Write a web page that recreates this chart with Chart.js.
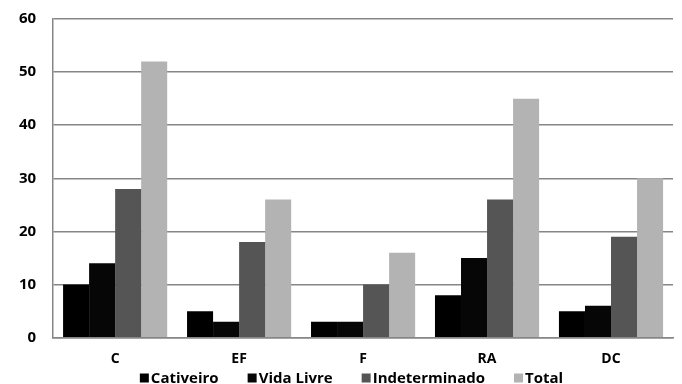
<!DOCTYPE html>
<html>
<head>
<meta charset="utf-8">
<script src="https://cdn.jsdelivr.net/npm/chart.js@4.4.1/dist/chart.umd.min.js"></script>
<style>
  html, body { margin: 0; padding: 0; background: #ffffff; }
  #wrap { width: 682px; height: 384px; position: relative; }
</style>
</head>
<body>
<div id="wrap"><canvas id="c" width="682" height="384"></canvas></div>
<script>
const categories = ['C', 'EF', 'F', 'RA', 'DC'];
const cativeiro = [10, 5, 3, 8, 5];
const vidaLivre = [14, 3, 3, 15, 6];
const indeterminado = [28, 18, 10, 26, 19];
const total = [52, 26, 16, 45, 30];
const yTicks = [0, 10, 20, 30, 40, 50, 60];

const FONT = "'Open Sans', 'DejaVu Sans', sans-serif";

function series(label, data, color) {
  return {
    label: label,
    data: data,
    backgroundColor: color,
    borderWidth: 0,
    categoryPercentage: 0.84,
    barPercentage: 1.0
  };
}

// Compact legend row under the axis: small square, tight label, wide gap between items.
const compactLegend = {
  id: 'compactLegend',
  afterDraw(chart) {
    const ctx = chart.ctx;
    const box = 9, textGap = 2, itemGap = 29;
    const centerX = 351.5, centerY = 378;
    ctx.save();
    ctx.font = "bold 15px " + FONT;
    ctx.textBaseline = 'middle';
    ctx.textAlign = 'left';
    const items = chart.data.datasets.map(ds => ({
      label: ds.label,
      color: ds.backgroundColor,
      w: box + textGap + ctx.measureText(ds.label).width
    }));
    const totalW = items.reduce((s, it) => s + it.w, 0) + itemGap * (items.length - 1);
    let x = centerX - totalW / 2;
    items.forEach(it => {
      ctx.fillStyle = it.color;
      ctx.fillRect(x, centerY - box / 2, box, box);
      ctx.fillStyle = '#000000';
      ctx.fillText(it.label, x + box + textGap, centerY + 0.5);
      x += it.w + itemGap;
    });
    ctx.restore();
  }
};

new Chart(document.getElementById('c'), {
  type: 'bar',
  data: {
    labels: categories,
    datasets: [
      series('Cativeiro', cativeiro, '#000000'),
      series('Vida Livre', vidaLivre, '#060606'),
      series('Indeterminado', indeterminado, '#555555'),
      series('Total', total, '#b3b3b3')
    ]
  },
  plugins: [compactLegend],
  options: {
    responsive: false,
    animation: false,
    devicePixelRatio: 1,
    layout: { padding: { left: 2, right: 9, top: 19, bottom: 4.5 } },
    plugins: {
      tooltip: { enabled: false },
      legend: { display: false }
    },
    scales: {
      x: {
        grid: { display: false, drawTicks: false },
        border: { display: true, color: '#868686', width: 1.5 },
        ticks: {
          font: { family: FONT, size: 14, weight: 'bold' },
          color: '#000000',
          padding: 12.5
        }
      },
      y: {
        min: 0,
        max: 60,
        afterBuildTicks: (axis) => { axis.ticks = yTicks.map(v => ({ value: v })); },
        afterFit: (axis) => { axis.paddingTop = 0; axis.paddingBottom = 0; },
        grid: { color: '#868686', lineWidth: 1.5, drawTicks: false },
        border: { display: true, color: '#868686', width: 1.5 },
        ticks: {
          font: { family: FONT, size: 15, weight: 'bold' },
          color: '#000000',
          padding: 17
        }
      }
    }
  }
});
</script>
</body>
</html>
